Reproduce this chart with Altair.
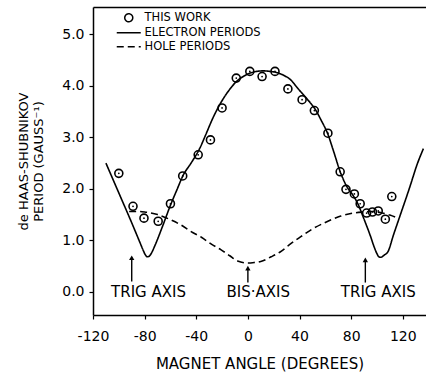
import altair as alt
import pandas as pd

# ---- data ----
series_names = ["THIS WORK", "ELECTRON PERIODS", "HOLE PERIODS"]

point_x = [-100, -89, -80.5, -69.5, -60, -50.5, -38.5, -29, -20, -9, 1.5, 11, 21, 31,
           42, 51.5, 62, 71.5, 76, 82.5, 87, 92, 96.5, 101, 106.5, 111.5]
point_y = [2.30, 1.66, 1.43, 1.37, 1.71, 2.25, 2.66, 2.95, 3.57, 4.15, 4.28, 4.18, 4.28, 3.94,
           3.73, 3.52, 3.08, 2.33, 1.99, 1.90, 1.71, 1.53, 1.55, 1.57, 1.41, 1.85]

electron_x = [-110, -100, -90, -84, -81, -79.5, -78, -76.5, -75, -72, -66, -60, -55, -50,
              -44, -37, -33, -27, -21, -15, -9, -3, 2, 7, 12, 17, 22, 28, 33, 39, 46,
              52, 57, 62, 66, 72, 77, 81, 85, 90, 95, 98, 100, 101.5, 103, 104.5, 106,
              108.3, 113, 118.6, 125, 131.5, 136]
electron_y = [2.50, 1.92, 1.34, 0.98, 0.80, 0.72, 0.68, 0.69, 0.74, 0.90, 1.28, 1.68, 1.98, 2.27,
              2.50, 2.80, 3.03, 3.38, 3.67, 3.90, 4.08, 4.19, 4.25, 4.28, 4.29, 4.28, 4.26, 4.20,
              4.12, 3.94, 3.74, 3.55, 3.32, 3.06, 2.76, 2.30, 2.03, 1.89, 1.72, 1.41, 1.08, 0.86,
              0.74, 0.68, 0.67, 0.69, 0.72, 0.77, 1.12, 1.53, 2.00, 2.50, 2.78]

hole_x = [-92, -85, -80, -70, -60, -52, -44, -36, -28, -21, -14, -8, 0, 5, 10, 18, 26, 33,
          41, 50, 62, 72, 82, 90, 96, 104, 110, 116]
hole_y = [1.56, 1.56, 1.55, 1.50, 1.40, 1.30, 1.17, 1.06, 0.92, 0.82, 0.70, 0.60, 0.56, 0.57,
          0.59, 0.68, 0.79, 0.93, 1.07, 1.22, 1.37, 1.47, 1.53, 1.55, 1.56, 1.53, 1.49, 1.43]

arrow_x = [-90, 0, 91]
arrow_tip = [0.66, 0.46, 0.62]
arrow_base = [0.20, 0.18, 0.18]

label_x = [-77, 8, 101]
label_y = [0.0, 0.0, 0.0]
label_text = ["TRIG AXIS", "BIS\u00b7AXIS", "TRIG AXIS"]

x_ticks = [-120, -80, -40, 0, 40, 80, 120]
y_ticks = [0, 1, 2, 3, 4, 5]

FONT = "DejaVu Sans"

points = pd.DataFrame({"x": point_x, "y": point_y, "series": "THIS WORK"})
curves = pd.concat([
    pd.DataFrame({"x": electron_x, "y": electron_y, "series": "ELECTRON PERIODS"}),
    pd.DataFrame({"x": hole_x, "y": hole_y, "series": "HOLE PERIODS"}),
], ignore_index=True)
arrows = pd.DataFrame({"x": arrow_x, "tip": arrow_tip, "base": arrow_base})
labels = pd.DataFrame({"x": label_x, "y": label_y, "text": label_text})

xscale = alt.Scale(domain=[-120, 138], nice=False, zero=False)
yscale = alt.Scale(domain=[-0.45, 5.53], nice=False, zero=False)

x_axis = alt.Axis(values=x_ticks, labelExpr="'' + datum.value", title="MAGNET  ANGLE  (DEGREES)",
                  tickSize=4, labelPadding=10, titlePadding=13, labelFontSize=14,
                  titleFontSize=15, labelFlush=False)
y_axis = alt.Axis(values=y_ticks, format=".1f", title=["de HAAS-SHUBNIKOV", "PERIOD  (GAUSS\u207b\u00b9)"],
                  tickSize=4, labelPadding=5, titlePadding=16, labelFontSize=14,
                  titleFontSize=13, titleLineHeight=15)

legend = alt.Legend(title=None)

lines = alt.Chart(curves).mark_line(color="black", strokeWidth=1.6, interpolate="monotone",
                                    clip=True).encode(
    x=alt.X("x:Q", scale=xscale, axis=x_axis),
    y=alt.Y("y:Q", scale=yscale, axis=y_axis),
    strokeDash=alt.StrokeDash("series:N",
                              scale=alt.Scale(domain=series_names,
                                              range=[[1, 0], [1, 0], [7, 4]]),
                              legend=legend),
)

circles = alt.Chart(points).mark_point(color="black", filled=False, size=64,
                                       strokeWidth=1.6, opacity=1).encode(
    x=alt.X("x:Q", scale=xscale, axis=None),
    y=alt.Y("y:Q", scale=yscale, axis=None),
    shape=alt.Shape("series:N",
                    scale=alt.Scale(domain=series_names,
                                    range=["circle", "M-3,0H3", "M-3,0H3"]),
                    legend=legend),
)

dots = alt.Chart(points).mark_circle(color="black", size=3, opacity=1).encode(
    x=alt.X("x:Q", scale=xscale, axis=None),
    y=alt.Y("y:Q", scale=yscale, axis=None),
)

shafts = alt.Chart(arrows).mark_rule(color="black", strokeWidth=1.4).encode(
    x=alt.X("x:Q", scale=xscale, axis=None),
    y=alt.Y("base:Q", scale=yscale, axis=None),
    y2="tip:Q",
)

heads = alt.Chart(arrows).mark_point(shape="triangle-up", filled=True, color="black",
                                     size=28, opacity=1).encode(
    x=alt.X("x:Q", scale=xscale, axis=None),
    y=alt.Y("tip:Q", scale=yscale, axis=None),
)

texts = alt.Chart(labels).mark_text(font=FONT, fontSize=15, color="black",
                                    baseline="middle", align="center").encode(
    x=alt.X("x:Q", scale=xscale,
            axis=alt.Axis(orient="top", labels=False, ticks=False, title=None,
                          domainColor="black", domainWidth=1.5)),
    y=alt.Y("y:Q", scale=yscale, axis=None),
    text="text:N",
)

chart = alt.layer(lines, circles, dots, shafts, heads, texts).resolve_axis(
    x="independent", y="independent"
).properties(
    width=333, height=308,
    autosize=alt.AutoSizeParams(type="none"),
    padding={"left": 93, "top": 7, "right": 0, "bottom": 59},
).configure_view(stroke=None).configure_axis(
    domainColor="black", domainWidth=1.5, tickColor="black", tickWidth=1.2,
    labelColor="black", titleColor="black", labelFont=FONT, titleFont=FONT,
    titleFontWeight="normal", grid=False,
).configure_legend(
    orient="none", legendX=30, legendY=5, padding=0, labelFont=FONT, labelFontSize=11.5,
    labelColor="black", symbolSize=64, symbolStrokeWidth=1.5, symbolStrokeColor="black",
    symbolFillColor="transparent", labelOffset=10, rowPadding=1,
)

chart.save("out.html", embed_options={"renderer": "svg", "actions": False})
